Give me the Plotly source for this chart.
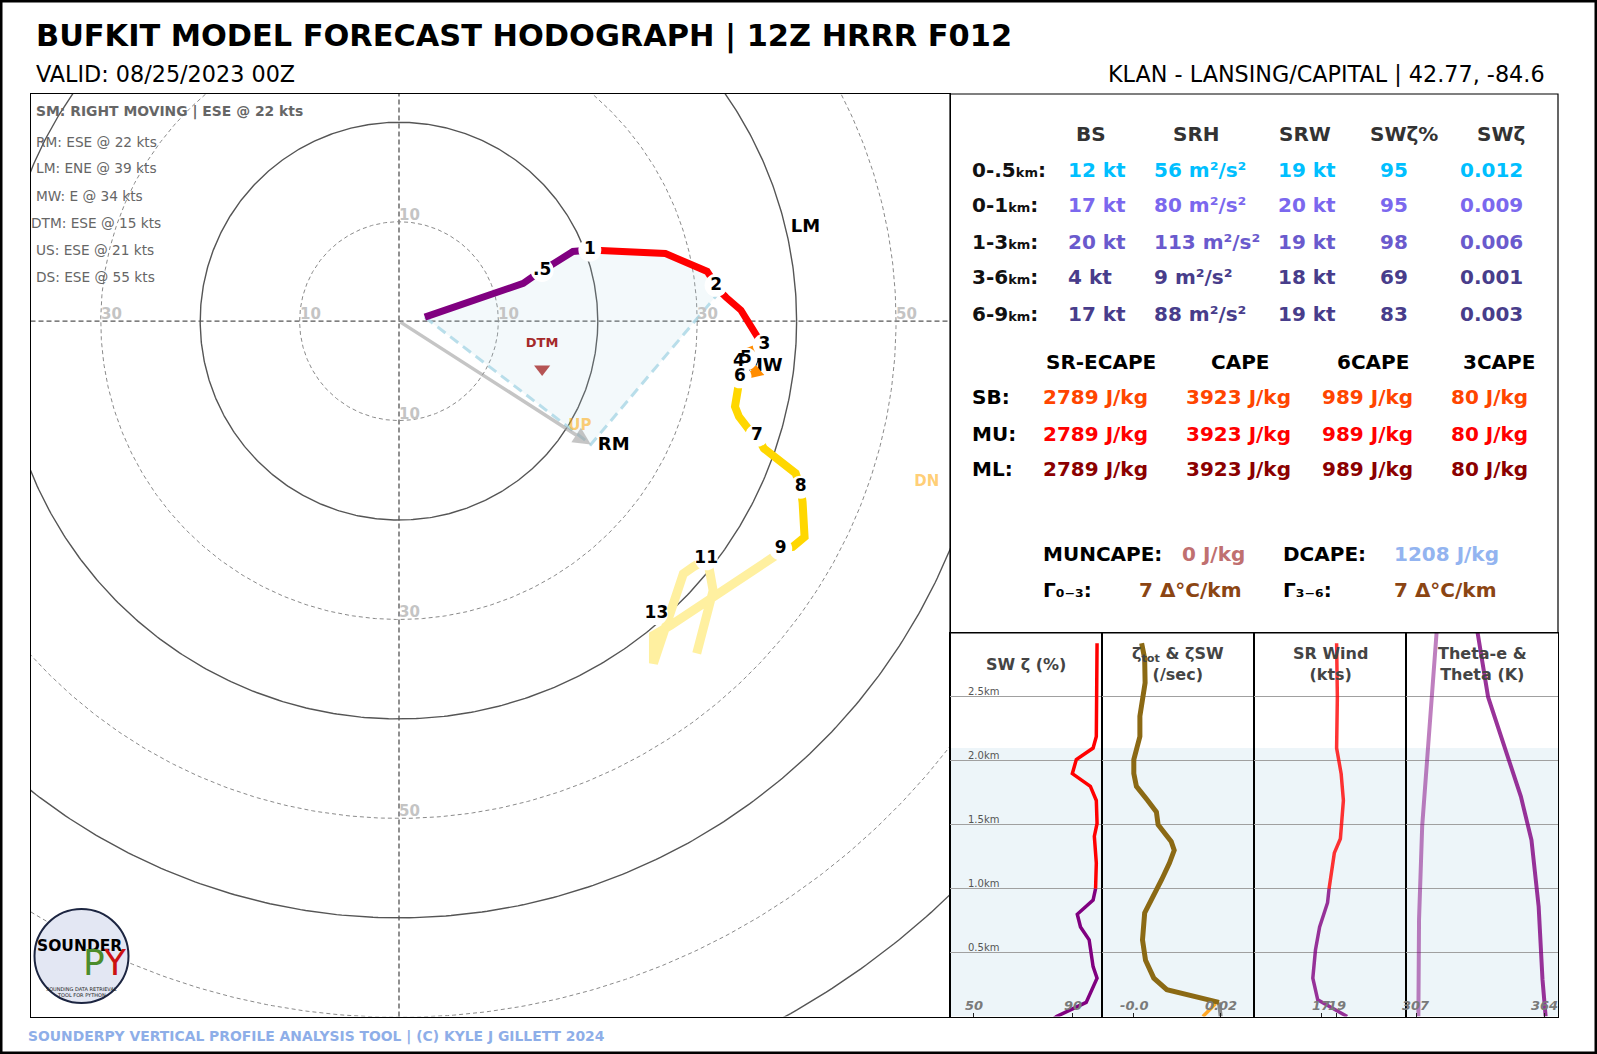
import numpy as np
import plotly.graph_objects as go

W, H = 1597, 1054
FONT = "DejaVu Sans"


def px(x):
    return x / W


def py(y):
    return 1 - y / H


# ---------------- HODOGRAPH DATA (kts) ----------------
hodo_0_1_u = [2.6, 12.5, 13.5, 14.4, 15.7, 17.5, 19.2]
hodo_0_1_v = [0.4, 3.8, 4.5, 5.1, 5.8, 7.0, 7.15]
hodo_1_3_u = [19.2, 20.2, 26.8, 31.0, 31.9, 32.3, 32.9, 34.4, 36.2, 36.75]
hodo_1_3_v = [7.15, 7.1, 6.8, 5.0, 3.6, 3.0, 2.4, 1.1, -1.8, -2.4]
hodo_3_6_u = [36.75, 34.1, 34.3, 34.9, 36.1, 34.3]
hodo_3_6_v = [-2.4, -3.4, -4.1, -3.8, -5.2, -5.6]
hodo_6_9_u = [34.3, 34.0, 33.8, 34.2, 35.5, 36.0, 36.7, 39.9, 40.4, 40.6, 40.8, 39.6, 38.4]
hodo_6_9_v = [-5.6, -7.1, -8.6, -9.6, -11.3, -11.5, -12.8, -15.3, -16.7, -18.2, -21.7, -22.7, -22.9]
hodo_9_up_u = [38.4, 37.7, 27.3, 25.6, 25.6, 28.6, 29.6, 31.0, 31.3, 31.6, 29.95]
hodo_9_up_v = [-22.9, -23.7, -30.6, -31.6, -34.4, -25.4, -24.7, -23.9, -25.4, -27.1, -33.4]

# inflow layer (0 - 2.1 km) end point index into the 1-3 km segment
inflow_top_idx = 5

# height labels
lab_text = [".5", "1", "2", "3", "4", "5", "6", "7", "8", "9", "11", "13"]
lab_u = [14.4, 19.2, 31.9, 36.75, 34.2, 34.9, 34.3, 36.0, 40.4, 38.4, 30.9, 25.9]
lab_v = [5.1, 7.15, 3.6, -2.4, -4.1, -3.8, -5.6, -11.5, -16.7, -22.9, -23.9, -29.4]

# storm motions / vectors (u, v)
rm_u, rm_v = 19.3, -12.4
lm_u, lm_v = 40.9, 9.4
mw_u, mw_v = 36.7, -4.6
dtm_u, dtm_v = 14.4, -4.8
up_u, up_v = 18.2, -10.6
dn_u, dn_v = 53.1, -16.2

ring_radii = [10, 20, 30, 40, 50, 60, 70, 80, 90]
ring_label_vals = [10, 30, 50]

sm_lines = ["RM: ESE @ 22 kts", "LM: ENE @ 39 kts", "MW: E @ 34 kts",
            "DTM: ESE @ 15 kts", "US: ESE @ 21 kts", "DS: ESE @ 55 kts"]

# ---------------- TABLE DATA ----------------
kin_cols = ["BS", "SRH", "SRW", "SWζ%", "SWζ"]
kin_rows = ["0-.5", "0-1", "1-3", "3-6", "6-9"]
bs_vals = ["12 kt", "17 kt", "20 kt", "4 kt", "17 kt"]
srh_vals = ["56 m²/s²", "80 m²/s²", "113 m²/s²", "9 m²/s²", "88 m²/s²"]
srw_vals = ["19 kt", "20 kt", "19 kt", "18 kt", "19 kt"]
swzp_vals = ["95", "95", "98", "69", "83"]
swz_vals = ["0.012", "0.009", "0.006", "0.001", "0.003"]
kin_colors = ["#00bfff", "#7b68ee", "#6a5acd", "#483d8b", "#483d8b"]

cape_cols = ["SR-ECAPE", "CAPE", "6CAPE", "3CAPE"]
cape_rows = ["SB", "MU", "ML"]
ecape_vals = ["2789 J/kg", "2789 J/kg", "2789 J/kg"]
cape_vals = ["3923 J/kg", "3923 J/kg", "3923 J/kg"]
cape6_vals = ["989 J/kg", "989 J/kg", "989 J/kg"]
cape3_vals = ["80 J/kg", "80 J/kg", "80 J/kg"]
cape_colors = ["#ff4500", "#ff0000", "#8b0000"]

muncape_val = "0 J/kg"
dcape_val = "1208 J/kg"
lr03_val = "7 Δ°C/km"
lr36_val = "7 Δ°C/km"

# ---------------- PROFILE PANEL DATA ----------------
swz_h = [2.92, 2.50, 2.19, 2.10, 2.01, 1.90, 1.80, 1.69, 1.51, 1.41, 1.20, 1.0,
         0.91, 0.80, 0.70, 0.60, 0.39, 0.30, 0.11, 0.0, -0.05]
swz_pct = [99.9, 99.9, 99.6, 98.3, 91.5, 89.9, 97.2, 99.6, 99.9, 98.8, 99.6, 99.3,
           98.3, 91.9, 93.2, 96.7, 98.3, 99.9, 95.5, 83.5, 80.0]

zeta_h = [2.92, 2.80, 2.61, 2.35, 2.19, 2.01, 1.90, 1.80, 1.69, 1.60, 1.50, 1.37,
          1.30, 1.20, 1.07, 0.81, 0.60, 0.44, 0.30, 0.21, 0.11]
zeta_sw = [0.0018, 0.0025, 0.0026, 0.0014, 0.0014, 0.0, 0.0, 0.0006, 0.0032, 0.0052,
           0.0056, 0.0086, 0.0093, 0.0082, 0.0064, 0.0025, 0.0020, 0.0027, 0.0046,
           0.0076, 0.0196]
zeta_tot_bot_h = [0.11, 0.0]
zeta_tot_bot = [0.0196, 0.0200]
zeta_sw_bot_h = [0.10, 0.0]
zeta_sw_bot = [0.0188, 0.0159]

srwind_h = [2.92, 2.50, 2.10, 1.90, 1.69, 1.39, 1.28, 1.0, 0.89, 0.70, 0.52, 0.30, 0.13, 0.0]
srwind = [19.0, 19.1, 19.0, 19.6, 19.9, 19.5, 18.7, 18.0, 17.8, 16.75, 16.2, 15.85, 16.5, 20.4]

theta_h = [3.05, 2.50, 1.49, 0.76, 0.0]
theta = [316.2, 314.0, 309.6, 308.2, 307.9]
thetae_h = [3.05, 2.50, 1.72, 1.38, 0.86, 0.29, 0.0]
thetae = [333.8, 338.9, 353.5, 358.2, 361.4, 363.1, 364.5]

inflow_top_km = 2.1
grid_km = [0.5, 1.0, 1.5, 2.0, 2.5]

panel_titles = ["SW ζ (%)", "ζ<sub>tot</sub> & ζSW<br>(/sec)", "SR Wind<br>(kts)",
                "Theta-e &<br>Theta (K)"]
panel_ticks = [([50, 90], ["50", "90"]), ([0.0, 0.02], ["-0.0", "0.02"]),
               ([17, 19], ["17", "19"]), ([307, 364], ["307", "364"])]
panel_ranges = [[40.4, 101.9], [-0.00732, 0.02766], [8.06, 28.19], [302.4, 370.0]]
panel_px = [(950, 1102), (1102, 1254), (1254, 1406), (1406, 1558)]

# ---------------- FIGURE ----------------
fig = go.Figure()
HX, HY = "x", "y"

# rings
th = np.linspace(0, 2 * np.pi, 721)
for r in ring_radii:
    dashed = (r // 10) % 2 == 1
    fig.add_trace(go.Scatter(
        x=r * np.cos(th), y=r * np.sin(th), mode="lines", hoverinfo="skip",
        line=dict(color="#8a8a8a" if dashed else "#555555", width=1.0 if dashed else 1.4,
                  dash="4px,3px" if dashed else "solid"),
        xaxis=HX, yaxis=HY))

# inflow polygon
poly_u = hodo_0_1_u + hodo_1_3_u[1:inflow_top_idx + 1] + [rm_u, hodo_0_1_u[0]]
poly_v = hodo_0_1_v + hodo_1_3_v[1:inflow_top_idx + 1] + [rm_v, hodo_0_1_v[0]]
fig.add_trace(go.Scatter(x=poly_u, y=poly_v, mode="lines", fill="toself",
                         fillcolor="rgba(173,216,230,0.15)", line=dict(width=0),
                         hoverinfo="skip", xaxis=HX, yaxis=HY))
fig.add_trace(go.Scatter(
    x=[hodo_0_1_u[0], rm_u, hodo_1_3_u[inflow_top_idx]],
    y=[hodo_0_1_v[0], rm_v, hodo_1_3_v[inflow_top_idx]],
    mode="lines", line=dict(color="rgba(173,216,230,0.85)", width=3, dash="10px,6px"),
    hoverinfo="skip", xaxis=HX, yaxis=HY))

# hodograph segments
fig.add_trace(go.Scatter(x=hodo_0_1_u, y=hodo_0_1_v, mode="lines",
                         line=dict(color="#800080", width=7), hoverinfo="skip", xaxis=HX, yaxis=HY))
fig.add_trace(go.Scatter(x=hodo_1_3_u, y=hodo_1_3_v, mode="lines",
                         line=dict(color="#ff0000", width=7), hoverinfo="skip", xaxis=HX, yaxis=HY))
# MW label (partly covered by the following segments / label discs)
fig.add_trace(go.Scatter(x=[mw_u], y=[mw_v], mode="text", text=["MW"],
                         textfont=dict(family=FONT, size=18, color="black", weight="bold"),
                         hoverinfo="skip", xaxis=HX, yaxis=HY))
fig.add_trace(go.Scatter(x=hodo_3_6_u, y=hodo_3_6_v, mode="lines",
                         line=dict(color="#ff8c00", width=7), hoverinfo="skip", xaxis=HX, yaxis=HY))
fig.add_trace(go.Scatter(x=hodo_6_9_u, y=hodo_6_9_v, mode="lines",
                         line=dict(color="#ffd700", width=8), hoverinfo="skip", xaxis=HX, yaxis=HY))
fig.add_trace(go.Scatter(x=hodo_9_up_u, y=hodo_9_up_v, mode="lines",
                         line=dict(color="#fff0a0", width=9), hoverinfo="skip", xaxis=HX, yaxis=HY))

# height labels with white discs
fig.add_trace(go.Scatter(x=lab_u, y=lab_v, mode="markers+text", text=lab_text,
                         textposition="middle center",
                         marker=dict(color="white", size=23, line=dict(width=0)),
                         textfont=dict(family=FONT, size=17, color="black", weight="bold"),
                         hoverinfo="skip", xaxis=HX, yaxis=HY))

# DTM
fig.add_trace(go.Scatter(x=[dtm_u], y=[dtm_v], mode="markers",
                         marker=dict(symbol="triangle-down", size=14, color="rgba(165,42,42,0.8)"),
                         hoverinfo="skip", xaxis=HX, yaxis=HY))
fig.add_trace(go.Scatter(x=[dtm_u], y=[dtm_v + 2.5], mode="text", text=["DTM"],
                         textfont=dict(family=FONT, size=13, color="#a52a2a", weight="bold"),
                         hoverinfo="skip", xaxis=HX, yaxis=HY))
# vector labels
fig.add_trace(go.Scatter(x=[up_u, dn_u], y=[up_v, dn_v], mode="text", text=["UP", "DN"],
                         textfont=dict(family=FONT, size=15, color="rgba(255,165,0,0.55)", weight="bold"),
                         hoverinfo="skip", xaxis=HX, yaxis=HY))
fig.add_trace(go.Scatter(x=[lm_u, rm_u + 2.3], y=[lm_v, rm_v - 0.1], mode="text", text=["LM", "RM"],
                         textfont=dict(family=FONT, size=18, color="black", weight="bold"),
                         hoverinfo="skip", xaxis=HX, yaxis=HY))

# ---------------- PROFILE PANELS ----------------
def pax(i):
    return ("x%d" % (i + 2), "y%d" % (i + 2))


xa, ya = pax(0)
top = [(h, p) for h, p in zip(swz_h, swz_pct) if h >= 1.0]
bot = [(h, p) for h, p in zip(swz_h, swz_pct) if h <= 1.0]
fig.add_trace(go.Scatter(x=[p for h, p in bot], y=[h for h, p in bot], mode="lines",
                         line=dict(color="#800080", width=3.5), hoverinfo="skip", xaxis=xa, yaxis=ya))
fig.add_trace(go.Scatter(x=[p for h, p in top], y=[h for h, p in top], mode="lines",
                         line=dict(color="#ff0000", width=3.5), hoverinfo="skip", xaxis=xa, yaxis=ya))

xa, ya = pax(1)
fig.add_trace(go.Scatter(x=zeta_tot_bot, y=zeta_tot_bot_h, mode="lines",
                         line=dict(color="#888888", width=4), hoverinfo="skip", xaxis=xa, yaxis=ya))
fig.add_trace(go.Scatter(x=zeta_sw_bot, y=zeta_sw_bot_h, mode="lines",
                         line=dict(color="#ffa726", width=3.5), hoverinfo="skip", xaxis=xa, yaxis=ya))
fig.add_trace(go.Scatter(x=zeta_sw, y=zeta_h, mode="lines",
                         line=dict(color="#8b6914", width=5), hoverinfo="skip", xaxis=xa, yaxis=ya))

xa, ya = pax(2)
top = [(h, p) for h, p in zip(srwind_h, srwind) if h >= 1.0]
bot = [(h, p) for h, p in zip(srwind_h, srwind) if h <= 1.0]
fig.add_trace(go.Scatter(x=[p for h, p in bot], y=[h for h, p in bot], mode="lines",
                         line=dict(color="rgba(128,0,128,0.8)", width=3.5), hoverinfo="skip", xaxis=xa, yaxis=ya))
fig.add_trace(go.Scatter(x=[p for h, p in top], y=[h for h, p in top], mode="lines",
                         line=dict(color="rgba(255,0,0,0.8)", width=3.5), hoverinfo="skip", xaxis=xa, yaxis=ya))

xa, ya = pax(3)
fig.add_trace(go.Scatter(x=theta, y=theta_h, mode="lines",
                         line=dict(color="rgba(128,0,128,0.5)", width=4), hoverinfo="skip", xaxis=xa, yaxis=ya))
fig.add_trace(go.Scatter(x=thetae, y=thetae_h, mode="lines",
                         line=dict(color="rgba(128,0,128,0.8)", width=4), hoverinfo="skip", xaxis=xa, yaxis=ya))

# ---------------- LAYOUT ----------------
hod_dom_x = [px(30.5), px(950)]
hod_dom_y = [py(1016.5), py(94)]
layout = dict(
    width=W, height=H, margin=dict(l=0, r=0, t=0, b=0),
    paper_bgcolor="white", plot_bgcolor="white", showlegend=False,
    font=dict(family=FONT),
    xaxis=dict(domain=hod_dom_x, range=[-37.07, 55.43], showgrid=False, zeroline=False,
               showticklabels=False, ticks="", showline=True, mirror=True,
               linecolor="black", linewidth=1.2, fixedrange=True),
    yaxis=dict(domain=hod_dom_y, range=[-69.92, 22.84], showgrid=False, zeroline=False,
               showticklabels=False, ticks="", showline=True, mirror=True,
               linecolor="black", linewidth=1.2, fixedrange=True),
)
for i, (x0, x1) in enumerate(panel_px):
    n = i + 2
    layout["xaxis%d" % n] = dict(
        domain=[px(x0), px(x1)], range=panel_ranges[i], anchor="y%d" % n,
        showgrid=False, zeroline=False, showticklabels=False,
        tickvals=panel_ticks[i][0], ticks="inside", ticklen=4, tickcolor="#222", tickwidth=1,
        showline=True, mirror=True, linecolor="black", linewidth=1.0)
    layout["yaxis%d" % n] = dict(
        domain=[py(1016.5), py(633)], range=[0, 3.0], anchor="x%d" % n,
        tickvals=grid_km, showgrid=True, gridcolor="#a0a0a0", gridwidth=1.3,
        zeroline=False, showticklabels=False, ticks="",
        showline=True, mirror=True, linecolor="black", linewidth=1.0)
fig.update_layout(**layout)

shapes = []
# outer border
shapes.append(dict(type="rect", xref="paper", yref="paper", x0=0, x1=1, y0=0, y1=1,
                   line=dict(color="black", width=5)))
# table box
shapes.append(dict(type="rect", xref="paper", yref="paper", x0=px(950), x1=px(1558),
                   y0=py(633), y1=py(94), line=dict(color="black", width=1.2)))
# hodograph crosshair
shapes.append(dict(type="line", xref="x domain", yref="y", x0=0, x1=1, y0=0, y1=0,
                   line=dict(color="#555555", width=1.3, dash="5px,3px"), layer="below"))
shapes.append(dict(type="line", xref="x", yref="y domain", x0=0, x1=0, y0=0, y1=1,
                   line=dict(color="#555555", width=1.3, dash="5px,3px"), layer="below"))
# inflow shading in panels
for i in range(4):
    n = i + 2
    shapes.append(dict(type="rect", xref="x%d domain" % n, yref="y%d" % n, x0=0, x1=1,
                       y0=0, y1=inflow_top_km, fillcolor="#edf5f9", line=dict(width=0),
                       layer="below"))
# logo circle
shapes.append(dict(type="circle", xref="paper", yref="paper", x0=px(34.5), x1=px(128.5),
                   y0=py(1003), y1=py(909), fillcolor="#e3e7f3",
                   line=dict(color="#1c2541", width=2)))
fig.update_layout(shapes=shapes)

ann = []
LSH = -2.5  # left-anchored text padding correction


def A(x, y, text, size, color="black", xanchor="left", yanchor="middle", **kw):
    if xanchor == "left":
        x = x + LSH
    elif xanchor == "right":
        x = x - LSH
    d = dict(xref="paper", yref="paper", x=px(x), y=py(y), text=text, showarrow=False,
             xanchor=xanchor, yanchor=yanchor, font=dict(family=FONT, size=size, color=color))
    d.update(kw)
    ann.append(d)


# titles
A(36.7, 35.6, "<b>BUFKIT MODEL FORECAST HODOGRAPH | 12Z HRRR F012</b>", 30.4)
A(36.7, 74.4, "VALID: 08/25/2023 00Z", 22.3)
A(1544, 74.4, "KLAN - LANSING/CAPITAL | 42.77, -84.6", 22.3, xanchor="right")
A(28.5, 1036, "<b>SOUNDERPY VERTICAL PROFILE ANALYSIS TOOL | (C) KYLE J GILLETT 2024</b>", 13.9,
  color="#8eaee8")

# storm motion text
A(36.7, 111, "<b>SM: RIGHT MOVING | ESE @ 22 kts</b>", 13.9, color="#666666")
sm_y = [141.6, 168.2, 195.6, 223.0, 249.6, 277.0]
sm_x = [36.7, 36.7, 36.7, 31.6, 36.7, 36.7]
for t, xx, yy in zip(sm_lines, sm_x, sm_y):
    A(xx, yy, t, 13.7, color="#666666")

# RM arrow
ann.append(dict(xref="x", yref="y", axref="x", ayref="y", x=rm_u, y=rm_v, ax=0, ay=0,
                text="", showarrow=True, arrowhead=2, arrowsize=1, arrowwidth=3.5,
                arrowcolor="rgba(160,160,160,0.6)"))

# ring labels
for r in ring_label_vals:
    for (ux, vy) in [(0, r), (0, -r), (r, 0), (-r, 0)]:
        if not (-37 < ux < 55 and -69.9 < vy < 20):
            continue
        ann.append(dict(xref="x", yref="y", x=ux, y=vy, text="<b>%d</b>" % r, showarrow=False,
                        xanchor="left", yanchor="bottom", xshift=-2, yshift=-4,
                        font=dict(family=FONT, size=15, color="#c4c4c4")))

# kinematics table
hdr_x = [1091, 1196, 1305, 1404, 1501]
for c, xx in zip(kin_cols, hdr_x):
    A(xx, 134, "<b>%s</b>" % c, 20, color="#333333", xanchor="center")
row_y = [169.5, 205.5, 241.5, 277.4, 313.6]
val_x = [1068.6, 1154, 1278, 1380, 1460]
for i, rname in enumerate(kin_rows):
    A(972.5, row_y[i], "<b>%s<span style='font-size:13px'>km</span>:</b>" % rname, 20,
      color="#111111")
    for xx, vals in zip(val_x, [bs_vals, srh_vals, srw_vals, swzp_vals, swz_vals]):
        A(xx, row_y[i], "<b>%s</b>" % vals[i], 20, color=kin_colors[i])

# thermo table
chdr_x = [1101, 1239.5, 1373, 1499]
for c, xx in zip(cape_cols, chdr_x):
    A(xx, 361.5, "<b>%s</b>" % c, 20, color="black", xanchor="center")
crow_y = [397.4, 433.5, 469.3]
cval_x = [1043, 1186, 1322, 1451]
for i, rname in enumerate(cape_rows):
    A(972.5, crow_y[i], "<b>%s:</b>" % rname, 20, color="black")
    for xx, vals in zip(cval_x, [ecape_vals, cape_vals, cape6_vals, cape3_vals]):
        A(xx, crow_y[i], "<b>%s</b>" % vals[i], 20, color=cape_colors[i])

A(1043, 553.8, "<b>MUNCAPE:</b>", 20, color="black")
A(1182, 553.8, "<b>%s</b>" % muncape_val, 20, color="#c07070")
A(1283, 553.8, "<b>DCAPE:</b>", 20, color="black")
A(1394, 553.8, "<b>%s</b>" % dcape_val, 20, color="#93b4f0")
A(1043, 590, "<b>Γ₀₋₃:</b>", 20, color="black")
A(1139, 590, "<b>%s</b>" % lr03_val, 20, color="#8b4513")
A(1283, 590, "<b>Γ₃₋₆:</b>", 20, color="black")
A(1394, 590, "<b>%s</b>" % lr36_val, 20, color="#8b4513")

# panel titles
for i, (x0, x1) in enumerate(panel_px):
    A((x0 + x1) / 2, 664, "<b>%s</b>" % panel_titles[i], 16, color="#444444", xanchor="center")

# panel tick labels (inside, bottom)
for i in range(4):
    n = i + 2
    for v, t in zip(*panel_ticks[i]):
        ann.append(dict(xref="x%d" % n, yref="y%d" % n, x=v, y=0.09, text="<b><i>%s</i></b>" % t,
                        showarrow=False, xanchor="center", yanchor="middle",
                        font=dict(family=FONT, size=13, color="#7a7a7a")))
# height labels in panel 1
for g in grid_km:
    ann.append(dict(xref="paper", yref="y2", x=px(966), y=g, text="%.1fkm" % g,
                    showarrow=False, xanchor="left", yanchor="middle", yshift=5,
                    font=dict(family=FONT, size=10, color="#555555")))

# logo text
A(79, 945.5, "<b>SOUNDER</b>", 15.5, color="black", xanchor="center")
A(105, 962.5, "<span style='color:#4c8c2b'>P</span><span style='color:#cc1111'>Y</span>", 36,
  xanchor="center")
A(81, 989, "SOUNDING DATA RETRIEVAL", 5, color="#222222", xanchor="center")
A(81, 994.5, "TOOL FOR PYTHON", 5, color="#222222", xanchor="center")

fig.update_layout(annotations=ann)
fig.write_html("out.html")
